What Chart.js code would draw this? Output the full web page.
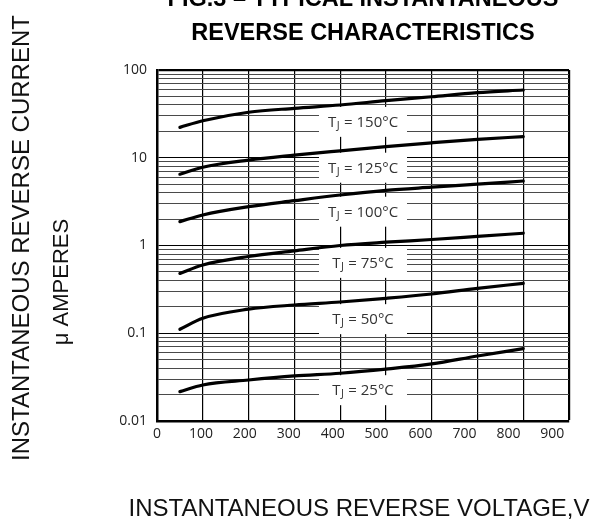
<!DOCTYPE html>
<html>
<head>
<meta charset="utf-8">
<script src="https://cdn.jsdelivr.net/npm/chart.js@4.4.1/dist/chart.umd.min.js"></script>
<style>
  html, body { margin: 0; padding: 0; background: #fff; }
  #wrap { width: 599px; height: 528px; position: relative; }
</style>
</head>
<body>
<div id="wrap"><canvas id="myChart"></canvas></div>
<script>
const voltages = [50, 100, 200, 300, 400, 500, 600, 700, 800];
const temperatures = ['150', '125', '100', '75', '50', '25'];
const current150 = [22.2, 26.4, 33.0, 36.6, 39.9, 44.7, 49.6, 55.1, 59.2];
const current125 = [6.5, 7.8, 9.4, 10.7, 12.0, 13.4, 14.8, 16.2, 17.4];
const current100 = [1.87, 2.23, 2.77, 3.24, 3.76, 4.25, 4.62, 5.0, 5.43];
const current75 = [0.48, 0.60, 0.75, 0.87, 1.0, 1.09, 1.17, 1.27, 1.38];
const current50 = [0.111, 0.148, 0.188, 0.21, 0.227, 0.25, 0.28, 0.325, 0.37];
const current25 = [0.0216, 0.0257, 0.0293, 0.0326, 0.035, 0.039, 0.0447, 0.055, 0.0668];
const series = [current150, current125, current100, current75, current50, current25];

const xTickValues = [0, 100, 200, 300, 400, 500, 600, 700, 800, 900];
const yTickValues = [0.01, 0.1, 1, 10, 100];
const yTickLabels = ['0.01', '0.1', '1', '10', '100'];

const isDecade = v => yTickValues.some(d => Math.abs(v - d) / d < 1e-6);

// T_J = xx°C boxes, sitting just under each curve
const tempLabels = {
  id: 'tempLabels',
  beforeDatasetsDraw(chart) {
    const { ctx, scales: { x, y } } = chart;
    const i4 = voltages.indexOf(400), i5 = voltages.indexOf(500);
    series.forEach((arr, k) => {
      const v = Math.sqrt(arr[i4] * arr[i5]);
      const cx = x.getPixelForValue(450);
      const cy = y.getPixelForValue(v) + 19;
      ctx.save();
      ctx.fillStyle = '#fff';
      ctx.fillRect(cx - 44, cy - 15, 88, 30);
      ctx.fillStyle = '#333';
      ctx.textBaseline = 'alphabetic';
      ctx.textAlign = 'left';
      const mainFont = '15px "Open Sans"', subFont = '11px "Open Sans"';
      const rest = ' = ' + temperatures[k] + '°C';
      ctx.font = mainFont;
      const wT = ctx.measureText('T').width;
      const wR = ctx.measureText(rest).width;
      ctx.font = subFont;
      const wJ = ctx.measureText('J').width + 1;
      let sx = cx - (wT + wJ + wR) / 2;
      const base = cy + 5;
      ctx.font = mainFont;
      ctx.fillText('T', sx, base);
      ctx.font = subFont;
      ctx.fillText('J', sx + wT + 0.5, base + 2);
      ctx.font = mainFont;
      ctx.fillText(rest, sx + wT + wJ, base);
      ctx.restore();
    });
  }
};

// axis titles at their own positions
const axisTitles = {
  id: 'axisTitles',
  afterDraw(chart) {
    const ctx = chart.ctx;
    const put = (text, font, x, y, rot) => {
      ctx.save();
      ctx.fillStyle = '#111';
      ctx.textAlign = 'center';
      ctx.textBaseline = 'middle';
      ctx.translate(x, y);
      ctx.rotate(rot);
      ctx.font = font;
      ctx.fillText(text, 0, 0);
      ctx.restore();
    };
    put('INSTANTANEOUS REVERSE CURRENT', '24px "Liberation Sans"', 22, 238, -Math.PI / 2);
    put('μ AMPERES', '22px "Liberation Sans"', 62, 282, -Math.PI / 2);
    put('INSTANTANEOUS REVERSE VOLTAGE,V', '24px "Liberation Sans"', 359, 509, 0);
  }
};

const ctx = document.getElementById('myChart').getContext('2d');

new Chart(ctx, {
  type: 'line',
  data: {
    datasets: series.map((arr, k) => ({
      label: 'TJ = ' + temperatures[k] + '°C',
      data: voltages.map((v, i) => ({ x: v, y: arr[i] })),
      borderColor: '#000',
      borderWidth: 3.2,
      borderCapStyle: 'round',
      pointRadius: 0,
      tension: 0.4,
      cubicInterpolationMode: 'monotone',
      fill: false
    }))
  },
  options: {
    responsive: true,
    maintainAspectRatio: false,
    animation: false,
    layout: {
      padding: { left: 0, right: 30, top: 0, bottom: 0 }
    },
    plugins: {
      legend: { display: false },
      tooltip: { enabled: false },
      title: {
        display: true,
        fullSize: false,
        text: ['FIG.3 – TYPICAL INSTANTANEOUS', 'REVERSE CHARACTERISTICS'],
        color: '#000',
        font: { family: 'Liberation Sans', size: 23.5, weight: 'bold', lineHeight: '34px' },
        padding: { top: -17, bottom: 19 }
      }
    },
    scales: {
      x: {
        type: 'linear',
        position: 'bottom',
        min: 0,
        max: 900,
        weight: 0,
        afterBuildTicks: s => { s.ticks = xTickValues.map(v => ({ value: v })); },
        ticks: { display: false },
        grid: {
          color: '#000',
          lineWidth: c => (c.tick && c.tick.value === 900 ? 2.2 : 1.2),
          drawTicks: false
        },
        border: { color: '#000', width: 2.5 }
      },
      x2: {
        type: 'linear',
        position: 'bottom',
        min: 0,
        max: 938,
        weight: 1,
        afterBuildTicks: s => { s.ticks = xTickValues.map(v => ({ value: v })); },
        afterFit: s => { s.height = 107; },
        ticks: {
          color: '#222',
          padding: 5,
          maxRotation: 0,
          autoSkip: false,
          font: { family: 'Open Sans', size: 14 }
        },
        grid: { display: false, drawTicks: false },
        border: { display: false }
      },
      y: {
        type: 'logarithmic',
        min: 0.01,
        max: 100,
        afterBuildTicks: s => {
          const t = [];
          for (let d = 0; d < yTickValues.length - 1; d++) {
            for (let m = 1; m <= 9; m++) {
              t.push({ value: parseFloat((yTickValues[d] * m).toPrecision(6)) });
            }
          }
          t.push({ value: yTickValues[yTickValues.length - 1] });
          s.ticks = t;
        },
        afterFit: s => { s.width = 157; },
        ticks: {
          color: '#222',
          padding: 10,
          autoSkip: false,
          font: { family: 'Open Sans', size: 14 },
          callback: v => {
            const i = yTickValues.findIndex(d => Math.abs(v - d) / d < 1e-6);
            return i >= 0 ? yTickLabels[i] : '';
          }
        },
        grid: {
          color: c => (c.tick && isDecade(c.tick.value) ? '#000' : '#4a4a4a'),
          lineWidth: c => (c.tick && c.tick.value === 100 ? 2.2 : 1),
          drawTicks: false
        },
        border: { color: '#000', width: 2.5 }
      }
    }
  },
  plugins: [tempLabels, axisTitles]
});
</script>
</body>
</html>
